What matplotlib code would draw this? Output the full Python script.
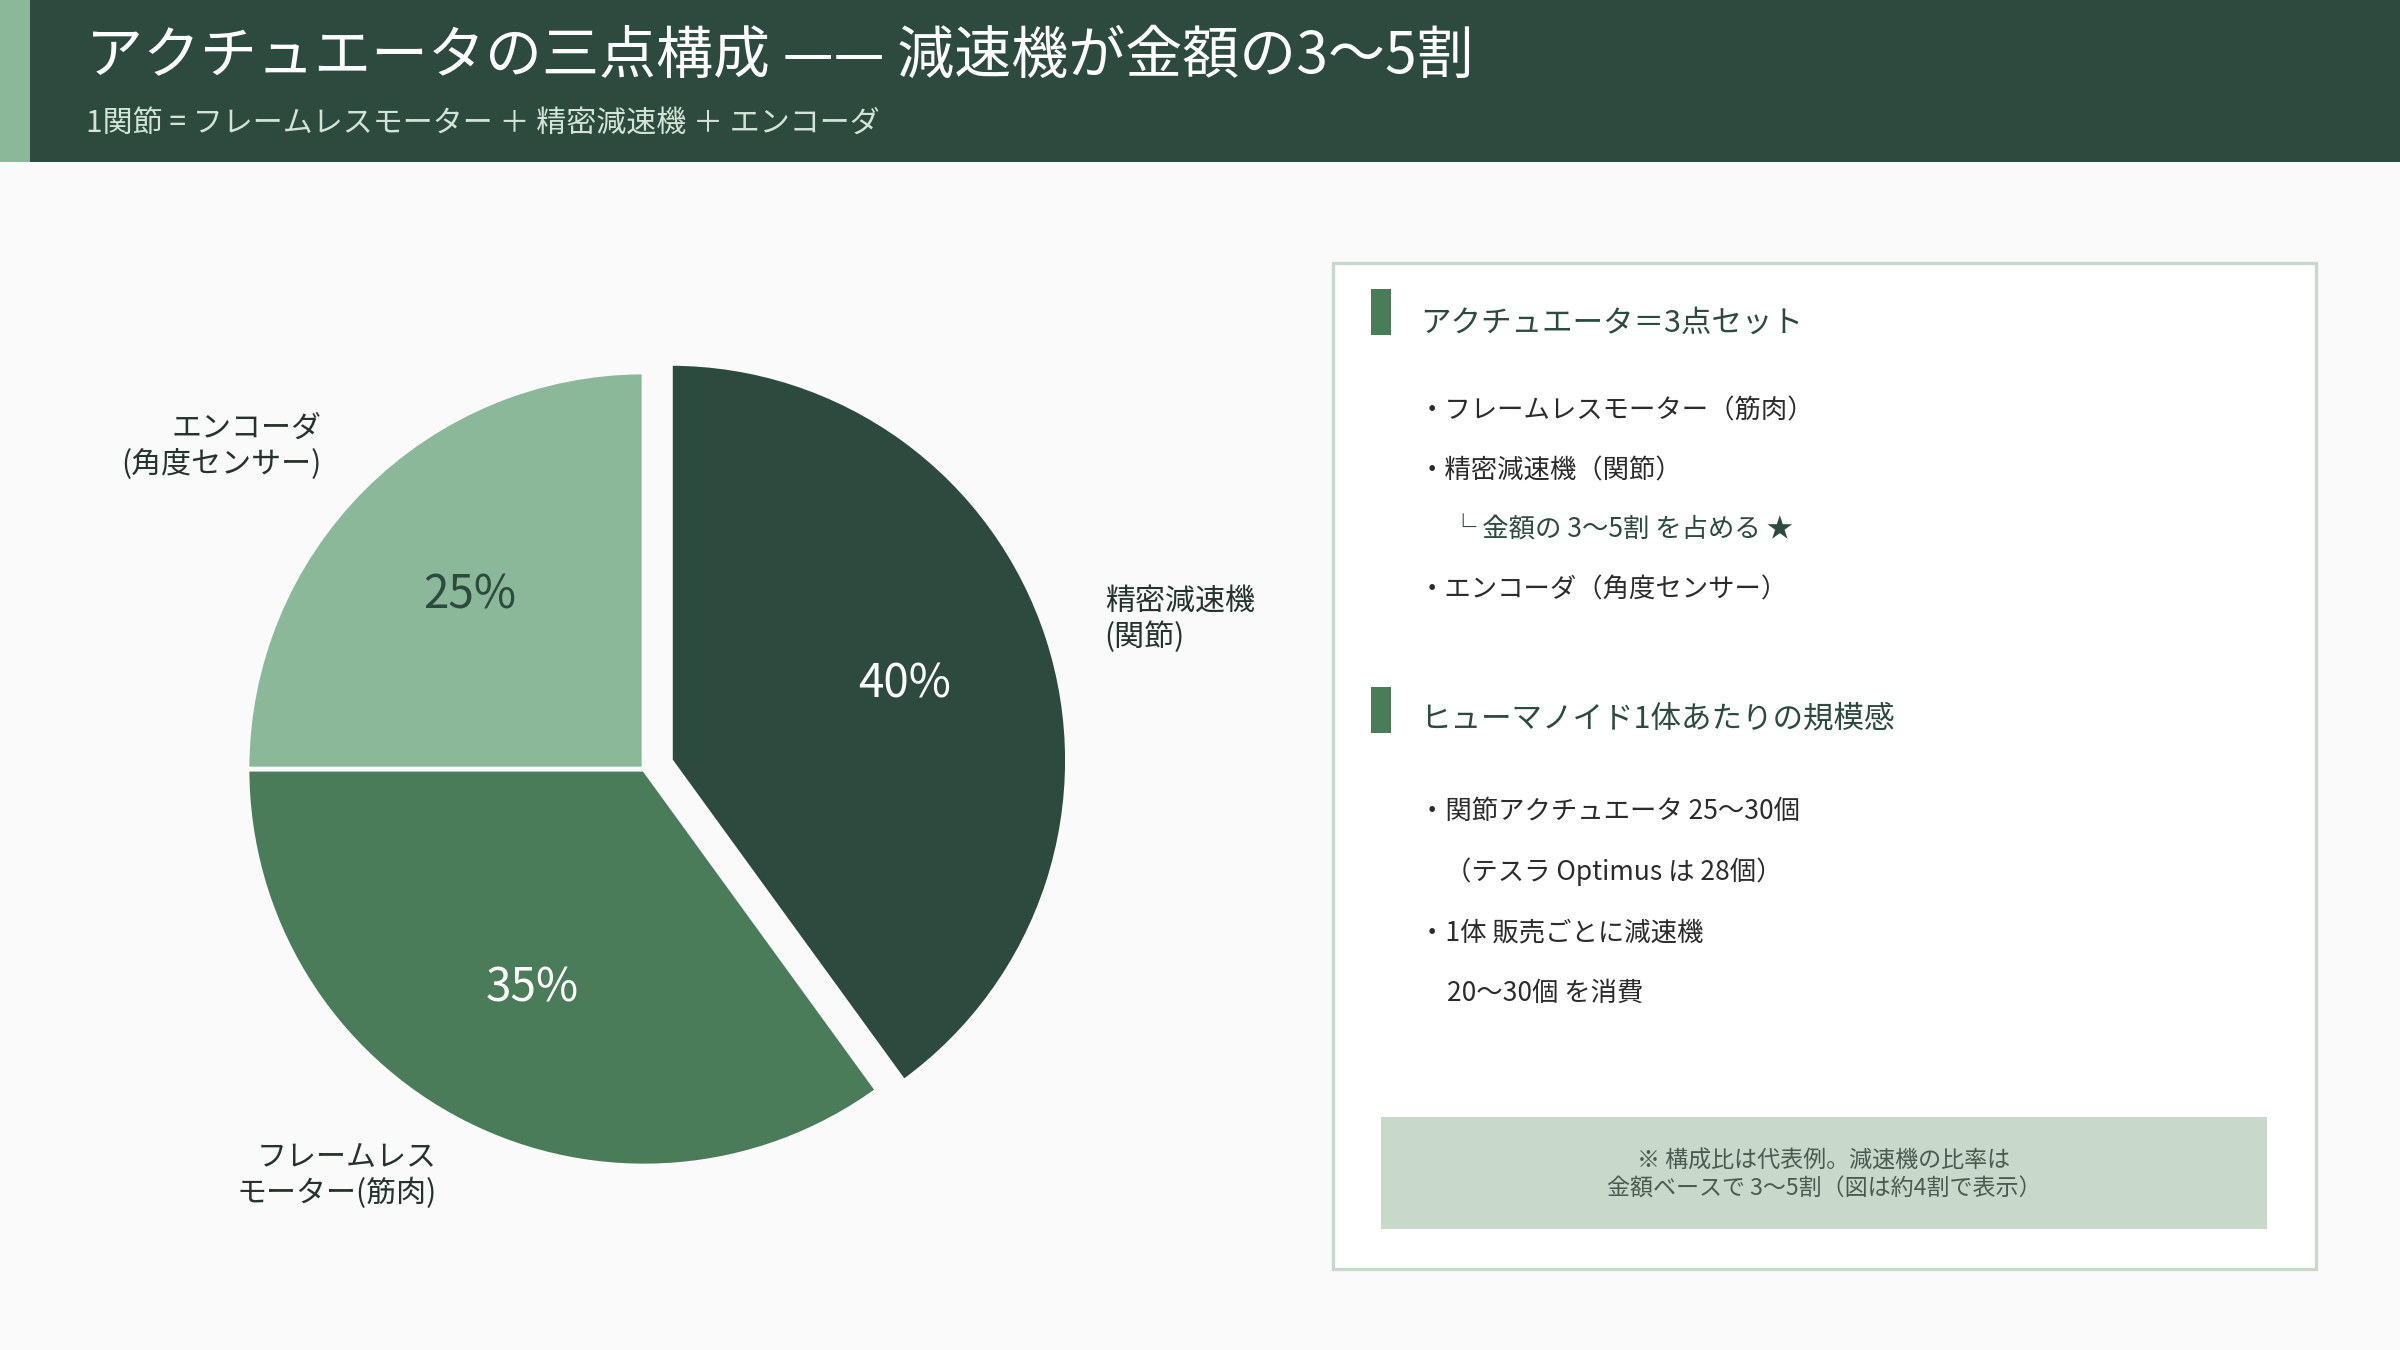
import matplotlib.pyplot as plt
from matplotlib.patches import Rectangle

plt.rcParams['font.family'] = ['Noto Sans CJK JP', 'DejaVu Sans']

# データ
parts = ['精密減速機\n(関節)', 'フレームレス\nモーター(筋肉)', 'エンコーダ\n(角度センサー)']
shares = [40, 35, 25]
explode = [0.07, 0, 0]
colors = ['#2D4A3E', '#4A7C59', '#8CB89A']
pct_colors = ['white', 'white', '#2D4A3E']

title = 'アクチュエータの三点構成 —— 減速機が金額の3〜5割'
subtitle = '1関節 = フレームレスモーター ＋ 精密減速機 ＋ エンコーダ'

sec1_title = 'アクチュエータ＝3点セット'
sec1_items = ['・フレームレスモーター（筋肉）', '・精密減速機（関節）',
              '└ 金額の 3〜5割 を占める ★', '・エンコーダ（角度センサー）']
sec2_title = 'ヒューマノイド1体あたりの規模感'
sec2_items = ['・関節アクチュエータ 25〜30個', '（テスラ Optimus は 28個）',
              '・1体 販売ごとに減速機', '20〜30個 を消費']
note = '※ 構成比は代表例。減速機の比率は\n金額ベースで 3〜5割（図は約4割で表示）'

W, H = 2400, 1350
DARK = '#2D4A3E'


def fx(x):
    return x / W


def fy(y):
    return 1 - y / H


def rect(x0, y0, x1, y1, **kw):
    fig.add_artist(Rectangle((fx(x0), fy(y1)), fx(x1 - x0), (y1 - y0) / H,
                             transform=fig.transFigure, **kw))


fig = plt.figure(figsize=(12, 6.75), dpi=200, facecolor='#FAFAFA')

# ヘッダー
rect(0, 0, W, 162, facecolor=DARK, edgecolor='none')
rect(0, 0, 30, 162, facecolor='#8CB89A', edgecolor='none')
fig.text(fx(86), fy(57), title, color='white', fontsize=20.5, va='center', ha='left')
fig.text(fx(86), fy(123), subtitle, color='#D3E3D7', fontsize=10.8, va='center', ha='left')

# 円グラフ
cx, cy, r = 644, 769, 397
lim = 1.4
size = 2 * lim * r
ax = fig.add_axes([fx(cx - size / 2), fy(cy + size / 2), size / W, size / H])
wedges, texts, autotexts = ax.pie(
    shares, labels=parts, explode=explode, colors=colors, startangle=90,
    counterclock=False, labeldistance=1.15, pctdistance=0.62,
    autopct=lambda p: f'{p:.0f}%',
    wedgeprops=dict(edgecolor='#FAFAFA', linewidth=1.7),
    textprops=dict(fontsize=10.8, color='#25332C'))
for t, c in zip(autotexts, pct_colors):
    t.set_color(c)
    t.set_fontsize(16.5)
ax.set_xlim(-lim, lim)
ax.set_ylim(-lim, lim)
ax.axis('off')

# 右パネル
rect(1333, 263, 2316, 1269, facecolor='white', edgecolor='#C8D9CC', linewidth=1.2)

rect(1371, 289, 1391, 335, facecolor='#4A7C59', edgecolor='none')
fig.text(fx(1420), fy(323), sec1_title, color=DARK, fontsize=11, va='center')
for y, x, s in zip([411, 471, 530, 590], [1419, 1419, 1450, 1419], sec1_items):
    c = DARK if s.startswith('└') else '#2B2B2B'
    fig.text(fx(x), fy(y), s, color=c, fontsize=9.5, va='center')

rect(1371, 687, 1391, 733, facecolor='#4A7C59', edgecolor='none')
fig.text(fx(1420), fy(719), sec2_title, color=DARK, fontsize=11, va='center')
for y, x, s in zip([811, 872, 933, 993], [1419, 1445, 1419, 1447], sec2_items):
    fig.text(fx(x), fy(y), s, color='#2B2B2B', fontsize=9.5, va='center')

rect(1381, 1117, 2267, 1229, facecolor='#C8D9CC', edgecolor='none')
fig.text(fx(1824), fy(1175), note, color='#4A5A50', fontsize=8.3, ha='center',
         va='center', linespacing=1.3)

fig.savefig('out.png', dpi=200, facecolor=fig.get_facecolor())
